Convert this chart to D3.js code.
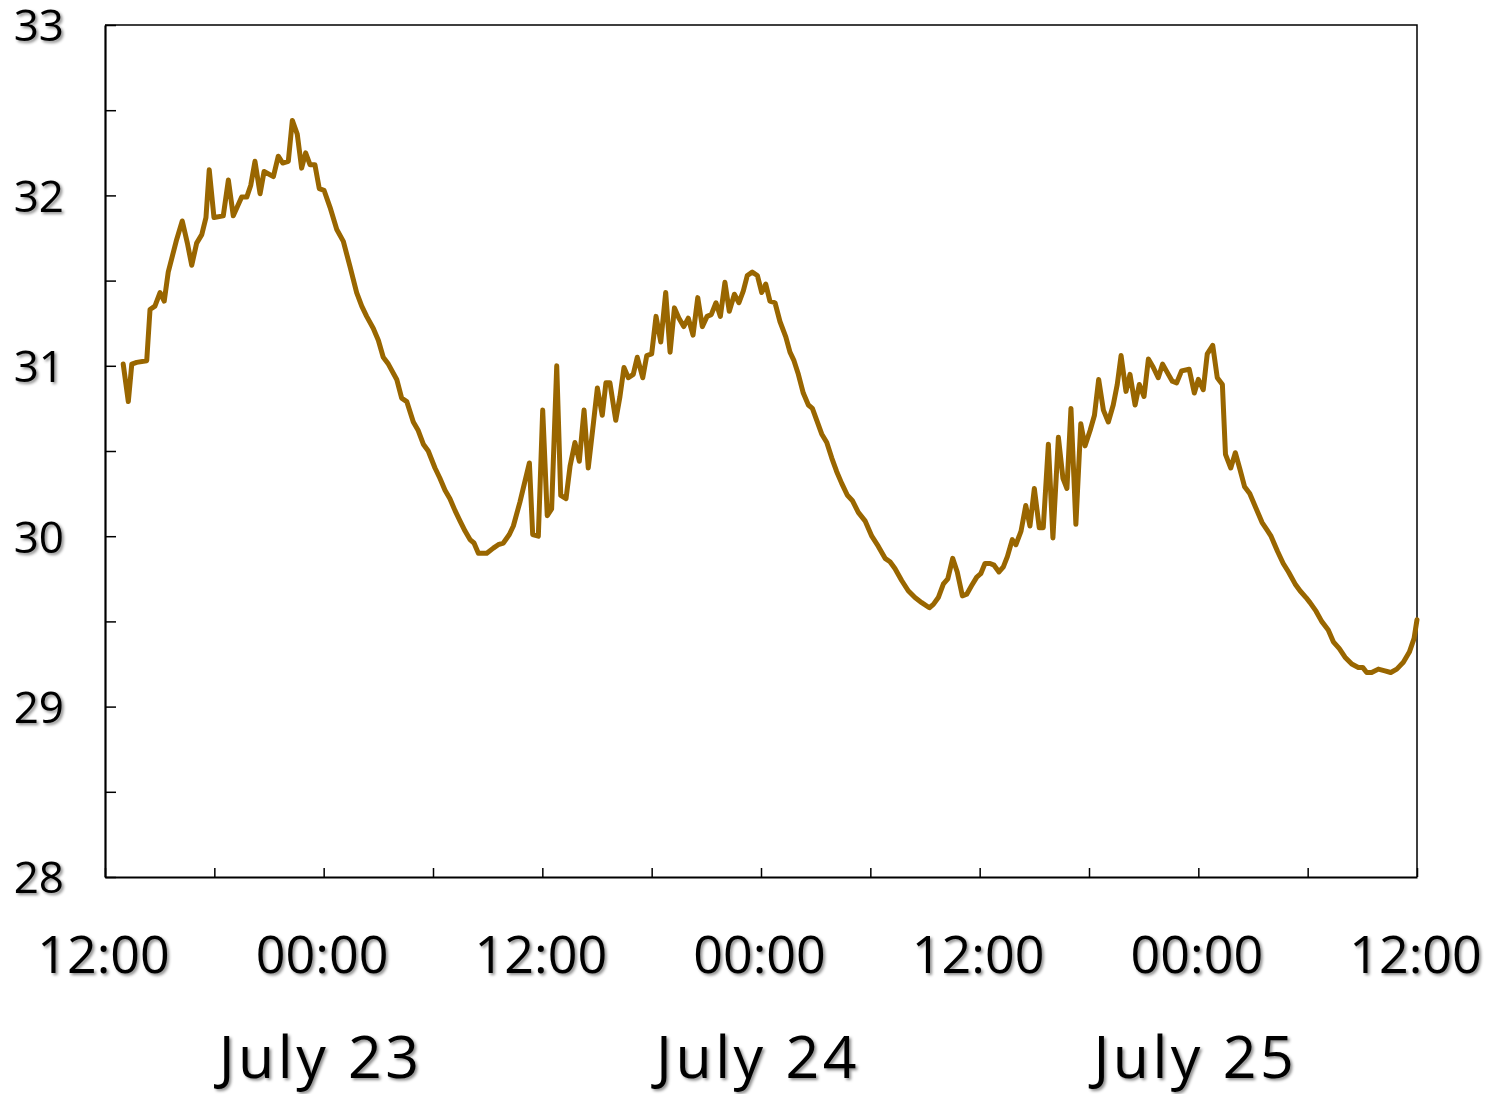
<!DOCTYPE html>
<html>
<head>
	<meta charset="utf-8">
	<title>Temperature, July 22-25</title>
	<script src="https://d3js.org/d3.v7.min.js"></script>
	<style>
		body { margin: 0; background: #fff; }
		text { font-family: "Open Sans", sans-serif; fill: #000; }
	</style>
</head>
<body>
	<div class="chart"></div>

	<script type="text/javascript">
		// hours after July 22 12:00
		const hours = [
			1.00, 1.28, 1.47, 1.74, 2.29, 2.47, 2.74, 3.02, 3.25, 3.47, 3.93, 4.24, 4.52, 4.76, 5.03, 5.31, 5.54, 5.72, 5.98, 6.49,
			6.77, 7.04, 7.50, 7.78, 8.00, 8.23, 8.51, 8.73, 9.24, 9.51, 9.75, 10.06, 10.28, 10.55, 10.79, 11.01, 11.25, 11.52, 11.76, 12.02,
			12.35, 12.72, 13.08, 13.45, 13.81, 14.09, 14.36, 14.72, 15.00, 15.27, 15.55, 16.01, 16.28, 16.56, 16.92, 17.19, 17.47, 17.74, 18.11, 18.38,
			18.66, 18.93, 19.21, 19.48, 19.76, 20.03, 20.25, 20.49, 20.95, 21.31, 21.58, 21.86, 22.19, 22.41, 22.77, 23.29, 23.47, 23.78, 24.02, 24.27,
			24.51, 24.79, 25.01, 25.30, 25.52, 25.79, 26.03, 26.29, 26.52, 26.80, 27.02, 27.29, 27.49, 27.71, 28.03, 28.26, 28.48, 28.72, 28.99, 29.21,
			29.51, 29.73, 30.00, 30.24, 30.50, 30.77, 31.01, 31.25, 31.49, 31.76, 32.01, 32.27, 32.53, 32.78, 33.04, 33.27, 33.53, 33.77, 34.02, 34.26,
			34.54, 34.79, 35.03, 35.25, 35.52, 35.80, 36.04, 36.26, 36.49, 36.77, 37.04, 37.36, 37.59, 37.81, 38.05, 38.32, 38.60, 38.82, 39.06, 39.33,
			39.61, 39.88, 40.15, 40.43, 40.74, 41.01, 41.34, 41.71, 42.08, 42.44, 42.81, 43.08, 43.35, 43.72, 44.08, 44.45, 44.82, 45.24, 45.46, 45.73,
			46.01, 46.25, 46.52, 46.77, 47.05, 47.29, 47.56, 47.84, 48.06, 48.29, 48.57, 48.79, 49.06, 49.30, 49.52, 49.79, 49.99, 50.27, 50.53, 50.76,
			51.00, 51.27, 51.49, 51.77, 52.02, 52.32, 52.57, 52.79, 53.01, 53.28, 53.55, 53.78, 54.06, 54.30, 54.53, 54.79, 55.06, 55.33, 55.55, 55.76,
			56.03, 56.25, 56.53, 56.76, 57.02, 57.26, 57.53, 57.80, 58.04, 58.30, 58.57, 58.81, 59.08, 59.50, 59.78, 60.00, 60.27, 60.49, 60.79, 61.04,
			61.32, 61.49, 61.78, 62.03, 62.29, 62.54, 62.82, 63.14, 63.50, 63.75, 63.99, 64.35, 64.66, 64.95, 65.31, 65.58, 65.91, 66.13, 66.46, 66.77,
			67.13, 67.41, 67.74, 68.05, 68.42, 68.78, 69.02, 69.24, 69.51, 69.88, 70.24, 70.56, 70.89, 71.25, 71.58, 71.84, 72.00
		]

		const temps = [
			31.01, 30.79, 31.01, 31.02, 31.03, 31.33, 31.35, 31.43, 31.38, 31.55, 31.74, 31.85, 31.72, 31.59, 31.72, 31.77, 31.87, 32.15, 31.87, 31.88,
			32.09, 31.88, 31.99, 31.99, 32.06, 32.20, 32.01, 32.14, 32.11, 32.23, 32.19, 32.20, 32.44, 32.36, 32.16, 32.25, 32.18, 32.18, 32.04, 32.03,
			31.93, 31.80, 31.73, 31.58, 31.43, 31.35, 31.29, 31.22, 31.15, 31.05, 31.01, 30.92, 30.81, 30.79, 30.67, 30.62, 30.54, 30.50, 30.40, 30.34,
			30.27, 30.22, 30.15, 30.09, 30.03, 29.98, 29.96, 29.90, 29.90, 29.93, 29.95, 29.96, 30.01, 30.06, 30.20, 30.43, 30.01, 30.00, 30.74, 30.12,
			30.16, 31.00, 30.24, 30.22, 30.41, 30.55, 30.44, 30.74, 30.40, 30.66, 30.87, 30.71, 30.90, 30.90, 30.68, 30.82, 30.99, 30.93, 30.95, 31.05,
			30.93, 31.06, 31.07, 31.29, 31.14, 31.43, 31.08, 31.34, 31.28, 31.23, 31.28, 31.18, 31.40, 31.23, 31.29, 31.30, 31.37, 31.29, 31.49, 31.32,
			31.42, 31.37, 31.44, 31.53, 31.55, 31.53, 31.43, 31.48, 31.38, 31.37, 31.26, 31.17, 31.08, 31.03, 30.95, 30.84, 30.77, 30.75, 30.68, 30.60,
			30.55, 30.46, 30.38, 30.31, 30.24, 30.21, 30.14, 30.09, 30.00, 29.94, 29.87, 29.85, 29.81, 29.74, 29.68, 29.64, 29.61, 29.58, 29.60, 29.64,
			29.72, 29.75, 29.87, 29.79, 29.65, 29.66, 29.71, 29.76, 29.78, 29.84, 29.84, 29.83, 29.79, 29.82, 29.88, 29.98, 29.95, 30.03, 30.18, 30.06,
			30.28, 30.05, 30.05, 30.54, 29.99, 30.58, 30.34, 30.28, 30.75, 30.07, 30.66, 30.53, 30.62, 30.71, 30.92, 30.74, 30.67, 30.77, 30.89, 31.06,
			30.85, 30.95, 30.77, 30.89, 30.82, 31.04, 30.99, 30.93, 31.01, 30.96, 30.91, 30.90, 30.97, 30.98, 30.84, 30.92, 30.86, 31.07, 31.12, 30.93,
			30.89, 30.48, 30.40, 30.49, 30.39, 30.29, 30.25, 30.17, 30.08, 30.04, 30.00, 29.91, 29.84, 29.79, 29.72, 29.68, 29.64, 29.61, 29.56, 29.50,
			29.45, 29.38, 29.34, 29.29, 29.25, 29.23, 29.23, 29.20, 29.20, 29.22, 29.21, 29.20, 29.22, 29.26, 29.32, 29.40, 29.51
		]

		const yTicks = [28, 28.5, 29, 29.5, 30, 30.5, 31, 31.5, 32, 32.5, 33]
		const start = new Date(2023, 6, 22, 12, 0)
		const end = new Date(2023, 6, 25, 12, 0)

		const width = 1489
		const height = 1094
		const margin = { top: 25, right: 72, bottom: 217, left: 105 }

		const data = hours.map((h, i) => ({
			date: new Date(start.getTime() + h * 3600e3),
			value: temps[i]
		}))

		const svg = d3.select('.chart').append('svg')
			.attr('width', width)
			.attr('height', height)

		// soft grey shadow under the labels
		const filter = svg.append('defs').append('filter')
			.attr('id', 'shadow')
			.attr('x', '-10%').attr('y', '-20%')
			.attr('width', '130%').attr('height', '150%')
		filter.append('feDropShadow')
			.attr('dx', 2).attr('dy', 2)
			.attr('stdDeviation', 1.5)
			.attr('flood-color', '#000')
			.attr('flood-opacity', 0.45)

		const x = d3.scaleTime([start, end], [margin.left, width - margin.right])
		const y = d3.scaleLinear([28, 33], [height - margin.bottom, margin.top])

		// frame: top and right are thin
		svg.append('path')
			.attr('d', `M${x.range()[0]},${y.range()[1]}H${x.range()[1]}V${y.range()[0]}`)
			.attr('fill', 'none')
			.attr('stroke', '#000')
			.attr('stroke-width', 1.5)

		const yAxis = svg.append('g')
			.attr('transform', `translate(${margin.left}, 0)`)
			.call(d3.axisLeft(y).tickValues(yTicks).tickSizeInner(-11).tickSizeOuter(0)
				.tickPadding(41).tickFormat(d => Number.isInteger(d) ? d : ''))
		yAxis.select('.domain').attr('stroke-width', 2.2)
		yAxis.selectAll('.tick line').attr('stroke-width', 1.5)
		yAxis.selectAll('.tick text')
			.attr('font-size', 44)
			.attr('font-family', '"Open Sans", sans-serif')
			.attr('dy', '0.36em')
			.attr('filter', 'url(#shadow)')

		const timeLabel = d3.timeFormat('%H:%M')
		const xAxis = svg.append('g')
			.attr('transform', `translate(0, ${height - margin.bottom})`)
			.call(d3.axisBottom(x).ticks(d3.timeHour.every(6)).tickSizeInner(-9).tickSizeOuter(0)
				.tickPadding(59).tickFormat(d => d.getHours() % 12 === 0 ? timeLabel(d) : ''))
		xAxis.select('.domain').attr('stroke-width', 2.2)
		xAxis.selectAll('.tick line').attr('stroke-width', 1.5)
		xAxis.selectAll('.tick text')
			.attr('font-size', 52)
			.attr('font-family', '"Open Sans", sans-serif')
			.attr('dx', -2)
			.attr('filter', 'url(#shadow)')

		// day names under the midnight ticks
		const dayLabel = d3.timeFormat('%B %-d')
		svg.append('g')
			.selectAll('text')
			.data(d3.timeDay.range(start, end))
			.join('text')
			.attr('x', d => x(d))
			.attr('y', height - 16)
			.attr('dx', -3)
			.attr('text-anchor', 'middle')
			.attr('font-size', 59)
			.attr('letter-spacing', 3.5)
			.attr('filter', 'url(#shadow)')
			.text(d => dayLabel(d))

		const line = d3.line()
			.x(d => x(d.date))
			.y(d => y(d.value))

		svg.append('path')
			.datum(data)
			.attr('fill', 'none')
			.attr('stroke', '#996600')
			.attr('stroke-width', 5)
			.attr('stroke-linejoin', 'round')
			.attr('stroke-linecap', 'round')
			.attr('d', line)
	</script>
</body>
</html>
